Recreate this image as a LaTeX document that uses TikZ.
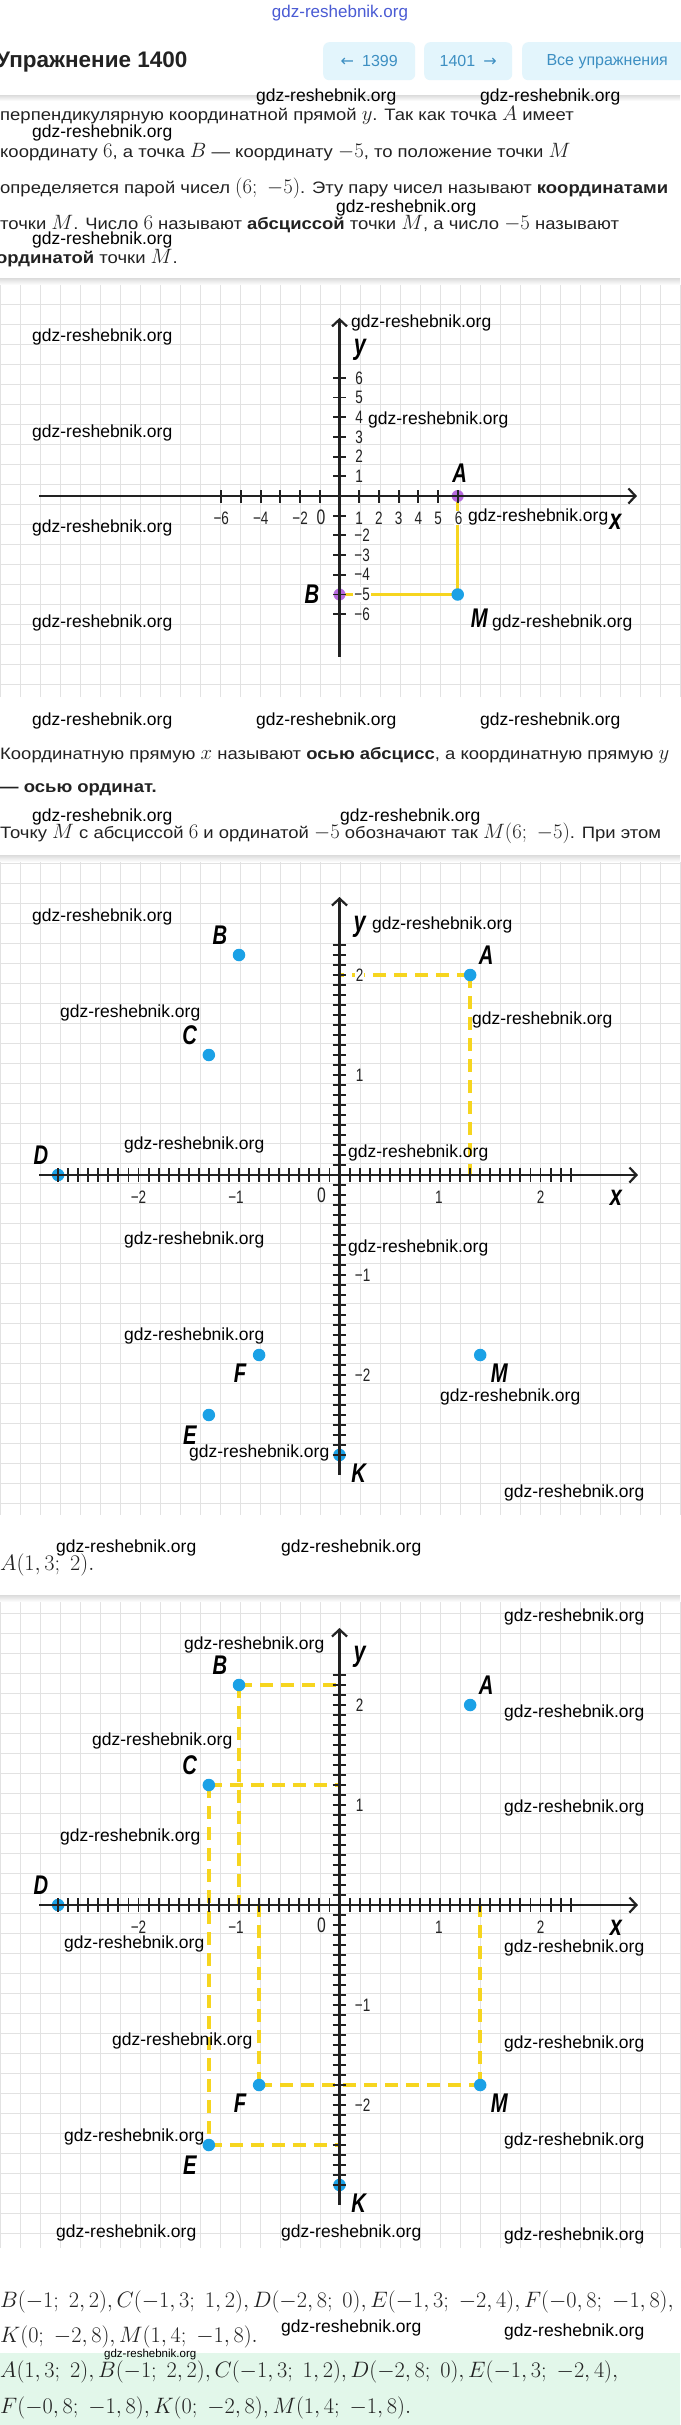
\documentclass[tikz,border=0pt]{standalone}
\usepackage[no-math]{fontspec}
\setmainfont{Liberation Sans}
\newfontfamily\bodyfont[FakeStretch=1.12]{Liberation Sans}
\newfontfamily\lblfont[FakeStretch=0.75]{Liberation Sans}
\newfontfamily\symfont{DejaVu Sans}
\usetikzlibrary{arrows.meta}
\definecolor{gridgray}{HTML}{E2E2E2}
\definecolor{dotblue}{HTML}{1BA1E6}
\definecolor{dotviolet}{HTML}{B76BDF}
\definecolor{lineyellow}{HTML}{F6D51F}
\definecolor{btnfill}{HTML}{E3F5FC}
\definecolor{btntext}{HTML}{3D8FC2}
\definecolor{answerbg}{HTML}{E2F7EA}
\definecolor{sitelink}{HTML}{4A5BD4}
\definecolor{inkgray}{HTML}{222222}
\newcommand\mth[1]{{\fontsize{20.74}{21}\selectfont$#1$}}
\newcommand\mathrow[1]{\scalebox{1.075}{$#1$}}
\tikzset{
  wmark/.style={anchor=west, inner sep=0pt, text=black, font=\fontsize{17.5}{17.5}\selectfont},
  bodyline/.style={anchor=west, inner sep=0pt, text=inkgray, font=\bodyfont\fontsize{16.5}{16.5}\selectfont},
  mathline/.style={anchor=west, inner sep=0pt, text=inkgray, font=\fontsize{20.74}{21}\selectfont},
  btn/.style={anchor=north west, fill=btnfill, rounded corners=6pt, text=btntext, inner sep=0pt, font=\fontsize{16}{16}\selectfont},
  gridline/.style={gridgray, line width=1pt},
  axisline/.style={inkgray, line width=2.2pt, -{Straight Barb[length=7pt,width=15pt]}},
  axtick/.style={inkgray, line width=1.9pt},
  numlbl/.style={inner sep=0pt, text=inkgray, font=\lblfont\fontsize{18}{18}\selectfont},
  ptlbl/.style={inner sep=0pt, font=\lblfont\bfseries\itshape\fontsize{27}{27}\selectfont},
  axlbl/.style={inner sep=0pt, font=\lblfont\bfseries\itshape\fontsize{29}{29}\selectfont},
  bluedot/.style={circle, fill=dotblue, inner sep=0pt, minimum size=12.5pt},
  violetdot/.style={circle, fill=dotviolet, inner sep=0pt, minimum size=12pt},
  guide/.style={lineyellow, line width=3pt},
  dashguide/.style={lineyellow, line width=3.5pt, dash pattern=on 13pt off 8pt},
}
\begin{document}
\begin{tikzpicture}[x=1pt, y=-1pt]
\useasboundingbox (0,0) rectangle (680,2425);
\fill[white] (0,0) rectangle (680,2425);

\node[text=sitelink, font=\fontsize{17}{17}\selectfont] (site) at (340,13) {gdz-reshebnik.org};
\node[anchor=west, inner sep=0pt, text=inkgray, font=\bfseries\fontsize{22.5}{22.5}\selectfont] (title) at (-4,62) {Упражнение 1400};
\node[btn, minimum width=92pt, minimum height=38pt] (prev) at (323,42) {{\symfont ←}\enspace 1399};
\node[btn, minimum width=88pt, minimum height=38pt] (next) at (424,42) {1401\enspace{\symfont →}};
\node[btn, minimum width=170pt, minimum height=38pt] (all) at (522,42) {Все упражнения};
\shade[top color=gray!28, bottom color=white] (0,95) rectangle (680,101);

\node[bodyline] (intro1) at (0,115) {перпендикулярную координатной прямой \mth{y}. Так как точка \mth{A} имеет};
\node[bodyline] (intro2) at (0,152) {координату \mth{6}, а точка \mth{B} — координату \mth{-5}, то положение точки \mth{M}};
\node[bodyline] (intro3) at (0,188) {определяется парой чисел \mth{(6;\ -5)}. Эту пару чисел называют \textbf{координатами}};
\node[bodyline] (intro4) at (0,224) {точки \mth{M}. Число \mth{6} называют \textbf{абсциссой} точки \mth{M}, а число \mth{-5} называют};
\node[bodyline] (intro5) at (-4,258) {\textbf{ординатой} точки \mth{M}.};

\shade[top color=gray!28, bottom color=white] (0,278) rectangle (680,285);
\foreach \gx in {0,20,...,680} \draw[gridline] (\gx,285) -- (\gx,697);
\foreach \gy in {304,324,...,684} \draw[gridline] (0,\gy) -- (680,\gy);

\begin{scope}[shift={(339.5,496)}, x=19.7pt, y=19.7pt]
  \coordinate (f1xs) at (-15.25,0);
  \coordinate (f1xe) at (15.1,0);
  \coordinate (f1ys) at (0,-8.17);
  \coordinate (f1ye) at (0,9.04);
  \coordinate (f1pA) at (6,0);
  \coordinate (f1pB) at (0,-5);
  \coordinate (f1pM) at (6,-5);
  \draw[guide] (f1pA) -- (f1pM);
  \draw[guide] (f1pB) -- (f1pM);
  \node[violetdot] (f1A) at (f1pA) {};
  \node[violetdot] (f1B) at (f1pB) {};
  \node[bluedot] (f1M) at (f1pM) {};
  \draw[axisline] (f1xs) -- (f1xe);
  \draw[axisline] (f1ys) -- (f1ye);
  \foreach \k in {-6,...,6} \draw[axtick] (\k,-0.33) -- (\k,0.33);
  \foreach \k in {-6,...,-1,1,2,...,6} \draw[axtick] (-0.33,\k) -- (0.33,\k);
  \foreach \k in {-6,-4,-2,1,2,3,4,5} \node[numlbl] (f1x\k) at (\k,-1.12) {\ifnum\k<0 −\number-\k\else\k\fi};
  \node[numlbl, fill=white, inner sep=1pt] (f1x6) at (6.05,-1.12) {6};
  \node[numlbl, font=\lblfont\fontsize{21}{21}\selectfont] (f1zero) at (-0.94,-1.1) {0};
  \foreach \k in {1,...,6} \node[numlbl] (f1y\k) at (0.99,\k) {\k};
  \foreach \k in {2,3,4,6} \node[numlbl] (f1ym\k) at (1.15,-\k) {−\k};
  \node[numlbl, fill=white, inner sep=1pt] (f1ym5) at (1.15,-5) {−5};
  \node[ptlbl] (f1Alabel) at (6.1,1.17) {A};
  \node[ptlbl] (f1Blabel) at (-1.4,-5) {B};
  \node[ptlbl] (f1Mlabel) at (7.1,-6.2) {M};
  \node[axlbl] (f1ylabel) at (1.04,7.4) {y};
  \node[axlbl] (f1xlabel) at (14,-1.32) {x};
\end{scope}

\node[bodyline] (mid1) at (0,755) {Координатную прямую \mth{x} называют \textbf{осью абсцисс}, а координатную прямую \mth{y}};
\node[bodyline] (mid2) at (0,790) {\textbf{— осью ординат.}};
\node[bodyline] (mid3) at (0,833) {Точку \mth{M} с абсциссой \mth{6} и ординатой \mth{-5} обозначают так \mth{M(6;\ -5)}. При этом};

\shade[top color=gray!28, bottom color=white] (0,855) rectangle (680,862);
\foreach \gx in {0,20,...,680} \draw[gridline] (\gx,862) -- (\gx,1515);
\foreach \gy in {863,883,...,1503} \draw[gridline] (0,\gy) -- (680,\gy);

\begin{scope}[shift={(339.5,1175)}, x=100.5pt, y=100pt]
  \coordinate (f2xs) at (-2.99,0);
  \coordinate (f2xe) at (2.97,0);
  \coordinate (f2ys) at (0,-3);
  \coordinate (f2ye) at (0,2.78);
  \coordinate (f2pA) at (1.3,2);
  \coordinate (f2Ay) at (0,2);
  \coordinate (f2Ax) at (1.3,0);
  \draw[dashguide] (f2pA) -- (f2Ay);
  \draw[dashguide] (f2pA) -- (f2Ax);
  \node[bluedot] (f2A) at (f2pA) {};
  \node[bluedot] (f2B) at (-1,2.2) {};
  \node[bluedot] (f2C) at (-1.3,1.2) {};
  \node[bluedot] (f2D) at (-2.8,0) {};
  \node[bluedot] (f2E) at (-1.3,-2.4) {};
  \node[bluedot] (f2F) at (-0.8,-1.8) {};
  \node[bluedot] (f2K) at (0,-2.8) {};
  \node[bluedot] (f2M) at (1.4,-1.8) {};
  \draw[axisline] (f2xs) -- (f2xe);
  \draw[axisline] (f2ys) -- (f2ye);
  \foreach \k in {-28,...,23} \draw[axtick] (\k/10,-0.068) -- (\k/10,0.068);
  \foreach \k in {-28,...,23} \draw[axtick] (-0.068,\k/10) -- (0.068,\k/10);
  \node[numlbl] (f2xm2) at (-2,-0.22) {−2};
  \node[numlbl] (f2xm1) at (-1.03,-0.22) {−1};
  \node[numlbl, font=\lblfont\fontsize{21}{21}\selectfont] (f2zero) at (-0.18,-0.2) {0};
  \node[numlbl] (f2x1) at (0.99,-0.22) {1};
  \node[numlbl] (f2x2) at (2,-0.22) {2};
  \node[numlbl, fill=white, inner sep=1pt] (f2y2) at (0.2,2) {2};
  \node[numlbl] (f2y1) at (0.2,1) {1};
  \node[numlbl] (f2ym1) at (0.23,-1) {−1};
  \node[numlbl] (f2ym2) at (0.23,-2) {−2};
  \node[ptlbl] (f2Alabel) at (1.46,2.2) {A};
  \node[ptlbl] (f2Blabel) at (-1.19,2.4) {B};
  \node[ptlbl] (f2Clabel) at (-1.49,1.4) {C};
  \node[ptlbl] (f2Dlabel) at (-2.97,0.2) {D};
  \node[ptlbl] (f2Elabel) at (-1.49,-2.6) {E};
  \node[ptlbl] (f2Flabel) at (-0.99,-1.98) {F};
  \node[ptlbl] (f2Klabel) at (0.19,-2.98) {K};
  \node[ptlbl] (f2Mlabel) at (1.59,-1.98) {M};
  \node[axlbl] (f2xlabel) at (2.75,-0.23) {x};
  \node[axlbl] (f2ylabel) at (0.2,2.48) {y};
\end{scope}

\node[mathline] (ansA) at (0,1565) {\mathrow{A(1,3;\ 2).}};

\shade[top color=gray!28, bottom color=white] (0,1595) rectangle (680,1602);
\foreach \gx in {0,20,...,680} \draw[gridline] (\gx,1602) -- (\gx,2248);
\foreach \gy in {1613,1633,...,2233} \draw[gridline] (0,\gy) -- (680,\gy);

\begin{scope}[shift={(339.5,1905)}, x=100.5pt, y=100pt]
  \coordinate (f3xs) at (-2.99,0);
  \coordinate (f3xe) at (2.97,0);
  \coordinate (f3ys) at (0,-3);
  \coordinate (f3ye) at (0,2.77);
  \coordinate (f3pB) at (-1,2.2);
  \coordinate (f3pC) at (-1.3,1.2);
  \coordinate (f3pE) at (-1.3,-2.4);
  \coordinate (f3pF) at (-0.8,-1.8);
  \coordinate (f3pM) at (1.4,-1.8);
  \coordinate (f3By) at (0,2.2);
  \coordinate (f3Bx) at (-1,0);
  \coordinate (f3Cy) at (0,1.2);
  \coordinate (f3Ey) at (0,-2.4);
  \coordinate (f3Fx) at (-0.8,0);
  \coordinate (f3Mx) at (1.4,0);
  \draw[dashguide] (f3pB) -- (f3By);
  \draw[dashguide] (f3pB) -- (f3Bx);
  \draw[dashguide] (f3pC) -- (f3Cy);
  \draw[dashguide] (f3pC) -- (f3pE);
  \draw[dashguide] (f3pE) -- (f3Ey);
  \draw[dashguide] (f3pF) -- (f3Fx);
  \draw[dashguide] (f3pF) -- (f3pM);
  \draw[dashguide] (f3pM) -- (f3Mx);
  \node[bluedot] (f3A) at (1.3,2) {};
  \node[bluedot] (f3B) at (f3pB) {};
  \node[bluedot] (f3C) at (f3pC) {};
  \node[bluedot] (f3D) at (-2.8,0) {};
  \node[bluedot] (f3E) at (f3pE) {};
  \node[bluedot] (f3F) at (f3pF) {};
  \node[bluedot] (f3K) at (0,-2.8) {};
  \node[bluedot] (f3M) at (f3pM) {};
  \draw[axisline] (f3xs) -- (f3xe);
  \draw[axisline] (f3ys) -- (f3ye);
  \foreach \k in {-28,...,23} \draw[axtick] (\k/10,-0.068) -- (\k/10,0.068);
  \foreach \k in {-28,...,23} \draw[axtick] (-0.068,\k/10) -- (0.068,\k/10);
  \node[numlbl] (f3xm2) at (-2,-0.22) {−2};
  \node[numlbl] (f3xm1) at (-1.03,-0.22) {−1};
  \node[numlbl, font=\lblfont\fontsize{21}{21}\selectfont] (f3zero) at (-0.18,-0.2) {0};
  \node[numlbl] (f3x1) at (0.99,-0.22) {1};
  \node[numlbl] (f3x2) at (2,-0.22) {2};
  \node[numlbl] (f3y2) at (0.2,2) {2};
  \node[numlbl] (f3y1) at (0.2,1) {1};
  \node[numlbl] (f3ym1) at (0.23,-1) {−1};
  \node[numlbl] (f3ym2) at (0.23,-2) {−2};
  \node[ptlbl] (f3Alabel) at (1.46,2.2) {A};
  \node[ptlbl] (f3Blabel) at (-1.19,2.4) {B};
  \node[ptlbl] (f3Clabel) at (-1.49,1.4) {C};
  \node[ptlbl] (f3Dlabel) at (-2.97,0.2) {D};
  \node[ptlbl] (f3Elabel) at (-1.49,-2.6) {E};
  \node[ptlbl] (f3Flabel) at (-0.99,-1.98) {F};
  \node[ptlbl] (f3Klabel) at (0.19,-2.98) {K};
  \node[ptlbl] (f3Mlabel) at (1.59,-1.98) {M};
  \node[axlbl] (f3xlabel) at (2.75,-0.23) {x};
  \node[axlbl] (f3ylabel) at (0.2,2.48) {y};
\end{scope}

\node[mathline] (list1) at (0,2302) {\mathrow{B(-1;\ 2,2), C(-1,3;\ 1,2), D(-2,8;\ 0), E(-1,3;\ -2,4), F(-0,8;\ -1,8),}};
\node[mathline] (list2) at (0,2337) {\mathrow{K(0;\ -2,8), M(1,4;\ -1,8).}};
\fill[answerbg] (0,2353) rectangle (680,2425);
\node[mathline] (answer1) at (0,2372) {\mathrow{A(1,3;\ 2), B(-1;\ 2,2), C(-1,3;\ 1,2), D(-2,8;\ 0), E(-1,3;\ -2,4),}};
\node[mathline] (answer2) at (0,2408) {\mathrow{F(-0,8;\ -1,8), K(0;\ -2,8), M(1,4;\ -1,8).}};

\foreach \wx/\wy [count=\wi] in {256/97, 480/97, 32/133, 336/208, 32/240,
  351/323, 32/337, 368/420, 32/433, 468/517, 32/528, 32/623, 492/623,
  32/721, 256/721, 480/721, 32/817, 340/817,
  32/917, 372/925, 60/1013, 472/1020, 124/1145, 348/1153, 124/1240, 348/1248, 124/1336, 440/1397, 189/1453, 504/1493,
  56/1548, 281/1548,
  504/1617, 184/1645, 504/1713, 92/1741, 504/1808, 60/1837, 64/1944, 504/1948, 112/2041, 504/2044, 64/2137, 504/2141, 56/2233, 281/2233, 504/2236,
  281/2328, 504/2332}
  \node[wmark] (wm\wi) at (\wx,\wy) {gdz-reshebnik.org};
\node[wmark, font=\fontsize{11.5}{11.5}\selectfont] (wmsmall) at (104,2354) {gdz-reshebnik.org};
\end{tikzpicture}
\end{document}
